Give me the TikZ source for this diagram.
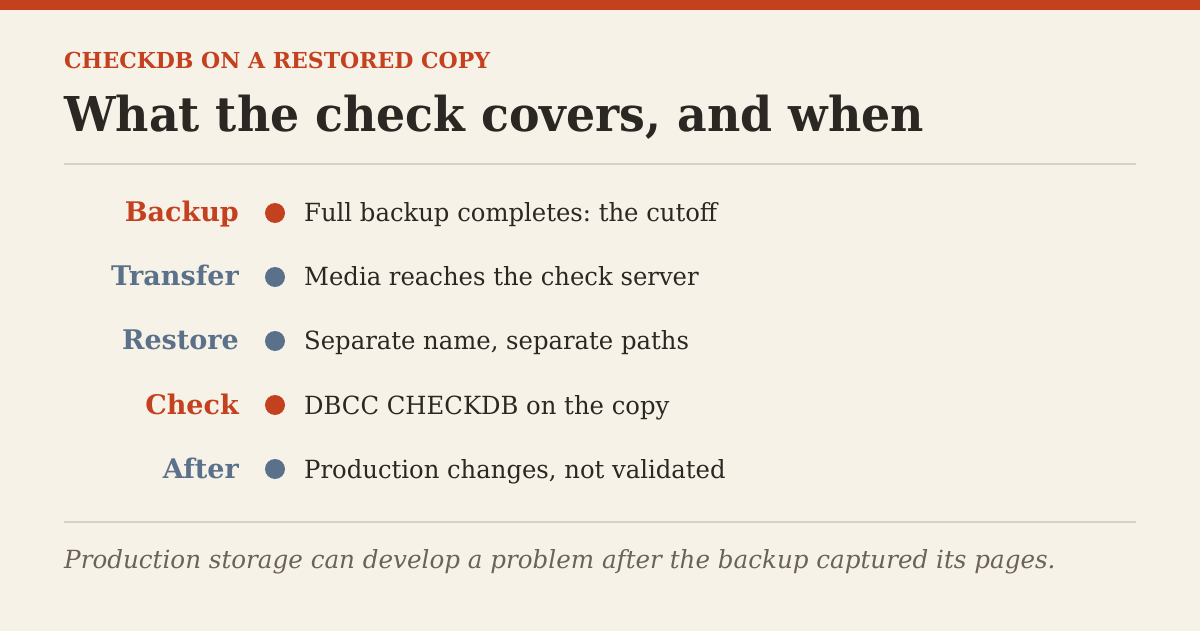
\documentclass[tikz,border=0pt]{standalone}
\usepackage{fontspec}
\setmainfont{DejaVu Serif}
\newfontfamily\titlefont{DejaVu Serif}[FakeStretch=0.955]
\newfontfamily\descfont{DejaVu Serif}[FakeStretch=0.972]
\newfontfamily\footfont{DejaVu Serif}[FakeStretch=0.984]
\definecolor{bg}{HTML}{F7F2E8}
\definecolor{accent}{HTML}{C4411F}
\definecolor{slate}{HTML}{5A7189}
\definecolor{ink}{HTML}{2B2722}
\definecolor{rulec}{HTML}{D9CFC2}
\definecolor{muted}{HTML}{6B6258}
\tikzset{
  lbl/.style={anchor=base east, inner sep=0pt, font=\fontsize{27bp}{30bp}\selectfont\bfseries},
  desc/.style={anchor=base west, inner sep=0pt, text=ink, font=\descfont\fontsize{25bp}{30bp}\selectfont},
  dot/.style={circle, inner sep=0pt, minimum size=20bp},
}
\begin{document}
\frenchspacing
\begin{tikzpicture}[x=1bp,y=-1bp]
\fill[bg] (0,0) rectangle (1200,631);
\useasboundingbox (0,0) rectangle (1200,631);
\fill[accent] (0,0) rectangle (1200,10);
\node[anchor=base west, inner sep=0pt, text=accent, font=\fontsize{22bp}{26bp}\selectfont\bfseries] (kicker) at (64,69) {CHECKDB ON A RESTORED COPY};
\node[anchor=base west, inner sep=0pt, text=ink, font=\titlefont\fontsize{48bp}{56bp}\selectfont\bfseries] (title) at (64,132) {What the check covers, and when};
\draw[rulec, line width=1.5bp] (64,164) -- (1136,164);
\foreach \n/\l/\d/\c [count=\i] in {backup/Backup/{Full backup completes: the cutoff}/accent,
  transfer/Transfer/{Media reaches the check server}/slate,
  restore/Restore/{Separate name, separate paths}/slate,
  check/Check/{DBCC CHECKDB on the copy}/accent,
  after/After/{Production changes, not validated}/slate} {
  \pgfmathsetmacro\yy{222+64*(\i-1)}
  \node[lbl, text=\c] (\n-l) at (239,\yy) {\l};
  \node[dot, fill=\c] (\n-dot) at (275,\yy-9) {};
  \node[desc] (\n-d) at (304,\yy) {\d};
}
\draw[rulec, line width=1.5bp] (64,522) -- (1136,522);
\node[anchor=base west, inner sep=0pt, text=muted, font=\footfont\fontsize{25bp}{30bp}\selectfont\itshape] (foot) at (64,568) {Production storage can develop a problem after the backup captured its pages.};
\end{tikzpicture}
\end{document}
